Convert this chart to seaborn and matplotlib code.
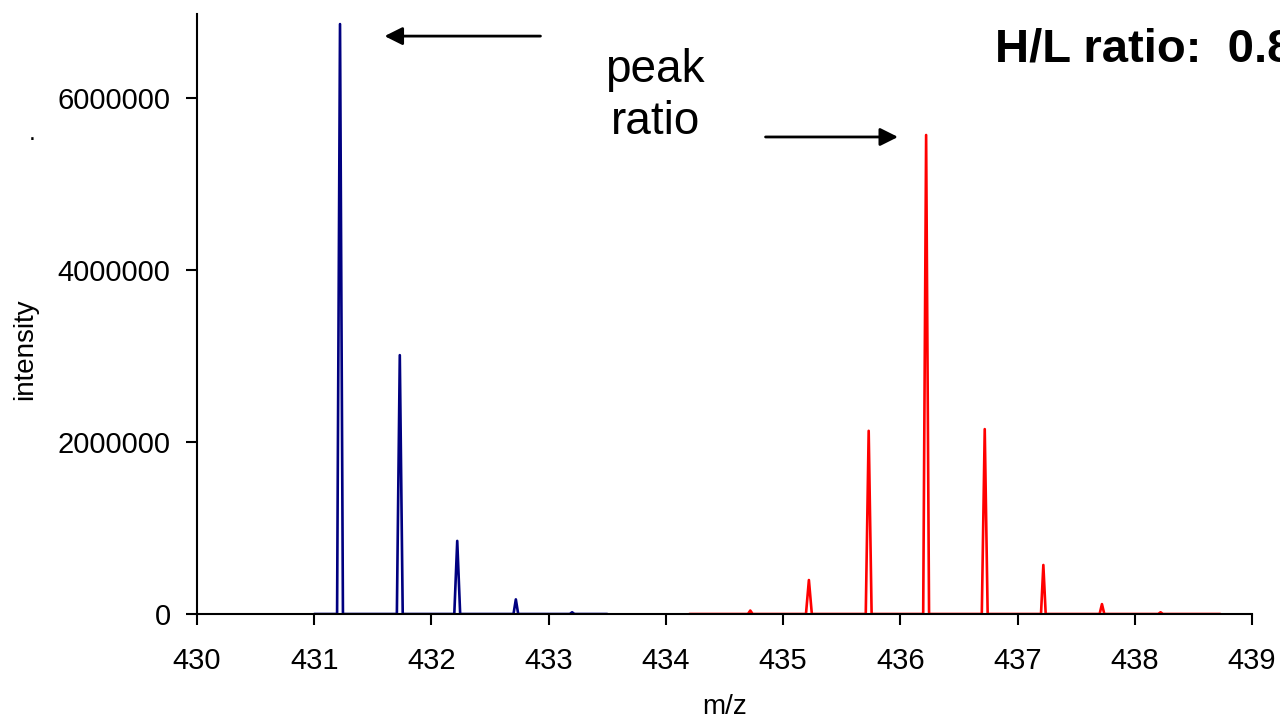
import matplotlib
matplotlib.use("Agg")
import matplotlib.pyplot as plt
import seaborn as sns

# ---- data ----
light_mz = [431.00, 431.195, 431.22, 431.245, 431.705, 431.73, 431.755,
            432.195, 432.22, 432.245, 432.70, 432.72, 432.74,
            433.18, 433.20, 433.22, 433.50]
light_int = [0, 0, 6860000, 0, 0, 3010000, 0,
             0, 850000, 0, 0, 170000, 0,
             0, 20000, 0, 0]

heavy_mz = [434.20, 434.70, 434.72, 434.74, 435.195, 435.22, 435.245,
            435.705, 435.73, 435.755, 436.195, 436.22, 436.245,
            436.695, 436.72, 436.745, 437.20, 437.22, 437.24,
            437.70, 437.72, 437.74, 438.20, 438.22, 438.24, 438.73]
heavy_int = [0, 0, 40000, 0, 0, 395000, 0,
             0, 2130000, 0, 0, 5570000, 0,
             0, 2150000, 0, 0, 570000, 0,
             0, 115000, 0, 0, 20000, 0, 0]

x_ticks = [430, 431, 432, 433, 434, 435, 436, 437, 438, 439]
y_ticks = [0, 2000000, 4000000, 6000000]
y_tick_labels = ["0", "2000000", "4000000", "6000000"]

# arrows: (tail x, tail y) -> (head x, head y) in data units
arrow_left = ((432.93, 6720000), (431.60, 6720000))
arrow_right = ((434.85, 5547000), (435.98, 5547000))

sns.set_style("ticks")
plt.rcParams['font.family'] = ['Liberation Sans', 'DejaVu Sans']
plt.rcParams.update({'text.color': 'black', 'axes.labelcolor': 'black',
                     'xtick.color': 'black', 'ytick.color': 'black',
                     'axes.edgecolor': 'black'})

fig = plt.figure(figsize=(12.8, 7.2), dpi=100)
ax = fig.add_axes([197/1280, 1-614/720, (1252-197)/1280, 600/720])

sns.lineplot(x=light_mz, y=light_int, color="#000080", lw=1.9, ax=ax,
             estimator=None, sort=False)
sns.lineplot(x=heavy_mz, y=heavy_int, color="#FF0000", lw=1.9, ax=ax,
             estimator=None, sort=False)

ax.set_xlim(430, 439)
ax.set_ylim(0, 6977000)
ax.set_xticks(x_ticks)
ax.set_xticklabels([str(t) for t in x_ticks])
ax.set_yticks(y_ticks)
ax.set_yticklabels(y_tick_labels)
ax.tick_params(axis='both', labelsize=21, length=8, width=1.5, color='black',
               labelcolor='black', direction='out')
ax.tick_params(axis='y', pad=11)
ax.tick_params(axis='x', pad=16)
for side in ['top', 'right']:
    ax.spines[side].set_visible(False)
for side in ['left', 'bottom']:
    ax.spines[side].set_linewidth(1.5)
    ax.spines[side].set_color('black')

ax.set_xlabel('m/z', fontsize=20, color='black')
ax.xaxis.set_label_coords(725/1280, 1-707/720, transform=fig.transFigure)
ax.xaxis.label.set_va('center')
ax.set_ylabel('intensity', fontsize=20, color='black')
ax.yaxis.set_label_coords(25/1280, 1-349/720, transform=fig.transFigure)
ax.yaxis.label.set_va('center')

for (tail, head) in [arrow_left, arrow_right]:
    ax.annotate('', xy=head, xytext=tail,
                arrowprops=dict(arrowstyle='-|>', color='black', lw=2,
                                mutation_scale=27, shrinkA=0, shrinkB=0),
                annotation_clip=False)

fig.text(655/1280, 1-96/720, 'peak\nratio', fontsize=33, ha='center',
         va='center', linespacing=1.25, color='black')
fig.text(995/1280, 1-62/720, 'H/L ratio:  0.81', fontsize=34,
         fontweight='bold', ha='left', va='baseline', color='black')
fig.text(32/1280, 1-133/720, '.', fontsize=18, ha='center', va='center',
         color='black')

fig.savefig('out.png', dpi=100)
